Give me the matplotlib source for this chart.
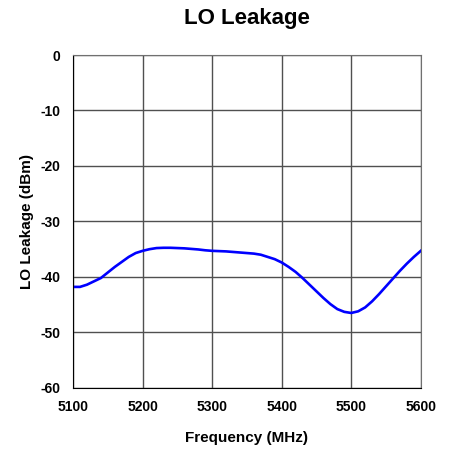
import matplotlib
matplotlib.use("Agg")
import matplotlib.pyplot as plt

# LO leakage vs frequency
freq = [5100, 5110, 5120, 5130, 5140, 5150, 5160, 5170, 5180, 5190,
        5200, 5210, 5220, 5230, 5240, 5250, 5260, 5270, 5280, 5290,
        5300, 5320, 5340, 5360, 5370, 5380, 5390, 5400, 5410, 5420,
        5430, 5440, 5450, 5460, 5470, 5480, 5490, 5500, 5510, 5520,
        5530, 5540, 5550, 5560, 5570, 5580, 5590, 5600]
leak = [-41.8, -41.8, -41.4, -40.8, -40.2, -39.2, -38.2, -37.3, -36.4, -35.7,
        -35.3, -35.0, -34.8, -34.75, -34.75, -34.8, -34.85, -34.95, -35.05, -35.2,
        -35.3, -35.4, -35.6, -35.8, -36.0, -36.4, -36.8, -37.4, -38.2, -39.1,
        -40.2, -41.4, -42.6, -43.8, -44.9, -45.8, -46.3, -46.5, -46.2, -45.5,
        -44.4, -43.1, -41.7, -40.3, -38.9, -37.6, -36.4, -35.3]

xticks = [5100, 5200, 5300, 5400, 5500, 5600]
yticks = [0, -10, -20, -30, -40, -50, -60]

plt.rcParams['font.family'] = ['Liberation Sans', 'DejaVu Sans']
plt.rcParams['axes.unicode_minus'] = False

fig = plt.figure(figsize=(4.51, 4.51), dpi=100)
ax = fig.add_axes([0.162, 0.140, 0.771, 0.738])

ax.plot(freq, leak, color='#0000ff', linewidth=1.9)

ax.set_xlim(5100, 5600)
ax.set_ylim(-60, 0)
ax.set_xticks(xticks)
ax.set_yticks(yticks)
ax.grid(True, color='#505050', linewidth=1.0)
ax.set_axisbelow(True)
for s in ['top', 'right']:
    ax.spines[s].set_color('#707070')
for s in ['left', 'bottom']:
    ax.spines[s].set_color('black')
ax.tick_params(length=0, labelsize=10)
ax.tick_params(axis='x', pad=9)
ax.tick_params(axis='y', pad=9)
for lbl in ax.get_xticklabels() + ax.get_yticklabels():
    lbl.set_fontweight('bold')

ax.set_xlabel('Frequency (MHz)', fontsize=11, fontweight='bold', labelpad=12)
ax.set_ylabel('LO Leakage (dBm)', fontsize=11, fontweight='bold', labelpad=5)
ax.set_title('LO Leakage', fontsize=16, fontweight='bold', pad=22)

fig.savefig('out.png', dpi=100)
